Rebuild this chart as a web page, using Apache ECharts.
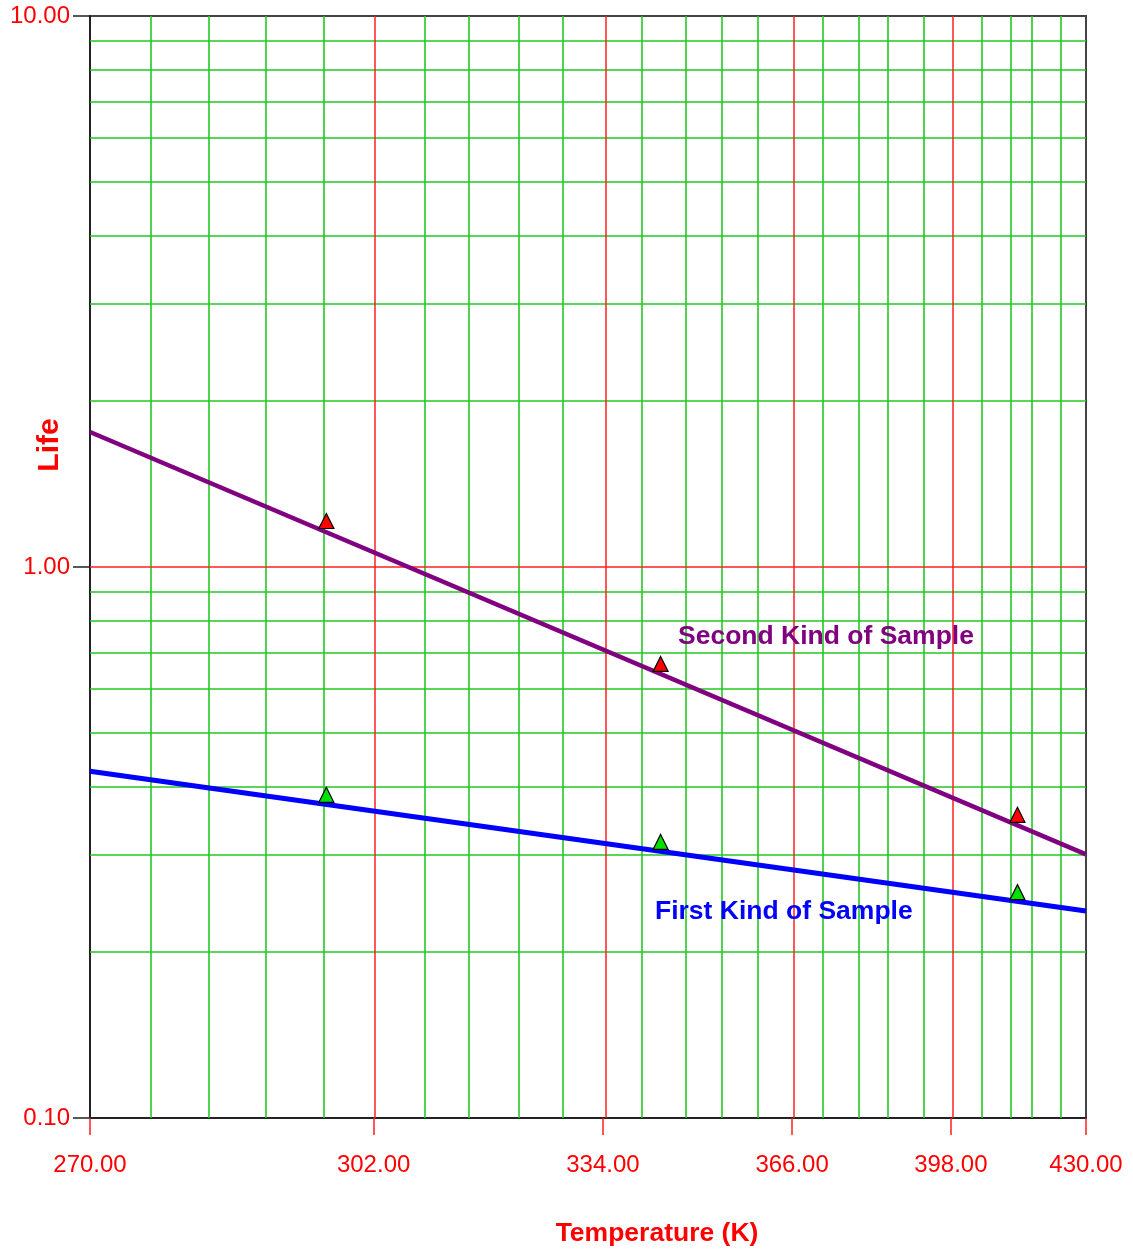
<!DOCTYPE html>
<html><head><meta charset="utf-8">
<script src="https://cdn.jsdelivr.net/npm/echarts@6/dist/echarts.min.js"></script>
<style>html,body{margin:0;padding:0;background:#fff}#c{width:1133px;height:1254px}</style>
</head><body><div id="c"></div>
<script>
// ---- data ----
const majorTemps = [270, 302, 334, 366, 398, 430];        // x tick labels (K)
const lifeTicks = [0.1, 1, 10];                            // y tick labels
const lifeMinor = [0.2, 0.3, 0.4, 0.5, 0.6, 0.7, 0.8, 0.9, 2, 3, 4, 5, 6, 7, 8, 9];
const sampleTemps = [296.15, 343.15, 413.15];
const secondKindPoints = [1.212, 0.667, 0.355];
const firstKindPoints = [0.386, 0.317, 0.257];
const fitTemps = [270, 430];
const secondKindFit = [1.758, 0.301];
const firstKindFit = [0.426, 0.2375];

// Arrhenius-type axis: position is linear in 1000/T
const inv = t => 1000 / t;
const minorTemps = [];
for (let i = 0; i < majorTemps.length - 1; i++) {
  const a = majorTemps[i], b = majorTemps[i + 1];
  for (let k = 1; k < 5; k++) minorTemps.push(a + (b - a) * k / 5);
}
const SANS = "'Liberation Sans',Arial,sans-serif";

const gridLines = (items, color, width, z) => ({
  type: 'line', data: [], silent: true, z: z,
  markLine: {
    silent: true, symbol: 'none', z: z, animation: false,
    label: { show: false },
    lineStyle: { color: color, width: width, type: 'solid', opacity: 1 },
    data: items
  }
});

const chart = echarts.init(document.getElementById('c'));
chart.setOption({
  animation: false,
  backgroundColor: '#fff',
  grid: { left: 90, right: 47, top: 16, bottom: 136, containLabel: false, outerBoundsMode: 'none',
    show: true, borderColor: '#444', borderWidth: 2, backgroundColor: 'transparent' },
  xAxis: [{
    type: 'value', inverse: true, min: inv(430), max: inv(270),
    axisLine: { show: true, onZero: false, lineStyle: { color: '#222', width: 2 } },
    axisTick: { show: true, inside: false, length: 17, customValues: majorTemps.map(inv), lineStyle: { color: '#ff2020', width: 1.5 } },
    axisLabel: { customValues: majorTemps.map(inv), margin: 35, color: '#ff0000', fontSize: 24, fontFamily: SANS,
      formatter: v => (1000 / v).toFixed(2) },
    splitLine: { show: false }
  }],
  yAxis: [{
    type: 'log', logBase: 10, min: 0.1, max: 10,
    axisLine: { show: true, onZero: false, lineStyle: { color: '#222', width: 2 } },
    axisTick: { show: true, inside: false, length: 17, lineStyle: { color: '#222', width: 1.5 } },
    axisLabel: { margin: 20, color: '#ff0000', fontSize: 24, fontFamily: SANS, formatter: v => Number(v).toFixed(2) },
    splitLine: { show: false }
  }],
  graphic: [
    { type: 'text', x: 657, y: 1234, z: 10, style: { text: 'Temperature (K)', fill: '#ff0000', fontSize: 26.5, fontWeight: 'bold', fontFamily: SANS, align: 'center', verticalAlign: 'middle' } },
    { type: 'text', x: 50, y: 445, rotation: Math.PI / 2, z: 10, style: { text: 'Life', fill: '#ff0000', fontSize: 30, fontWeight: 'bold', fontFamily: SANS, align: 'center', verticalAlign: 'middle' } },
    { type: 'text', x: 678, y: 637, z: 10, style: { text: 'Second Kind of Sample', fill: '#800080', fontSize: 26.5, fontWeight: 'bold', fontFamily: SANS, align: 'left', verticalAlign: 'middle' } },
    { type: 'text', x: 655, y: 912, z: 10, style: { text: 'First Kind of Sample', fill: '#0000ff', fontSize: 26.5, fontWeight: 'bold', fontFamily: SANS, align: 'left', verticalAlign: 'middle' } }
  ],
  series: [
    gridLines(minorTemps.map(t => ({ xAxis: inv(t) })).concat(lifeMinor.map(v => ({ yAxis: v }))), '#22c822', 1.6, 1),
    gridLines(majorTemps.slice(1, -1).map(t => ({ xAxis: inv(t) })).concat([{ yAxis: 1 }]), '#ff2020', 1.5, 2),
    { name: 'Second Kind of Sample', type: 'line', z: 3, symbol: 'none', silent: true,
      lineStyle: { color: '#800080', width: 4.5 },
      data: fitTemps.map((t, i) => [inv(t), secondKindFit[i]]) },
    { name: 'First Kind of Sample', type: 'line', z: 3, symbol: 'none', silent: true,
      lineStyle: { color: '#0000ff', width: 5 },
      data: fitTemps.map((t, i) => [inv(t), firstKindFit[i]]) },
    { name: 'Second Kind points', type: 'scatter', z: 4, symbol: 'triangle', symbolSize: [15, 15],
      itemStyle: { color: '#ff0000', borderColor: '#000', borderWidth: 1.2, opacity: 1 },
      data: sampleTemps.map((t, i) => [inv(t), secondKindPoints[i]]) },
    { name: 'First Kind points', type: 'scatter', z: 4, symbol: 'triangle', symbolSize: [15, 15],
      itemStyle: { color: '#00e000', borderColor: '#000', borderWidth: 1.2, opacity: 1 },
      data: sampleTemps.map((t, i) => [inv(t), firstKindPoints[i]]) }
  ]
});
</script></body></html>
